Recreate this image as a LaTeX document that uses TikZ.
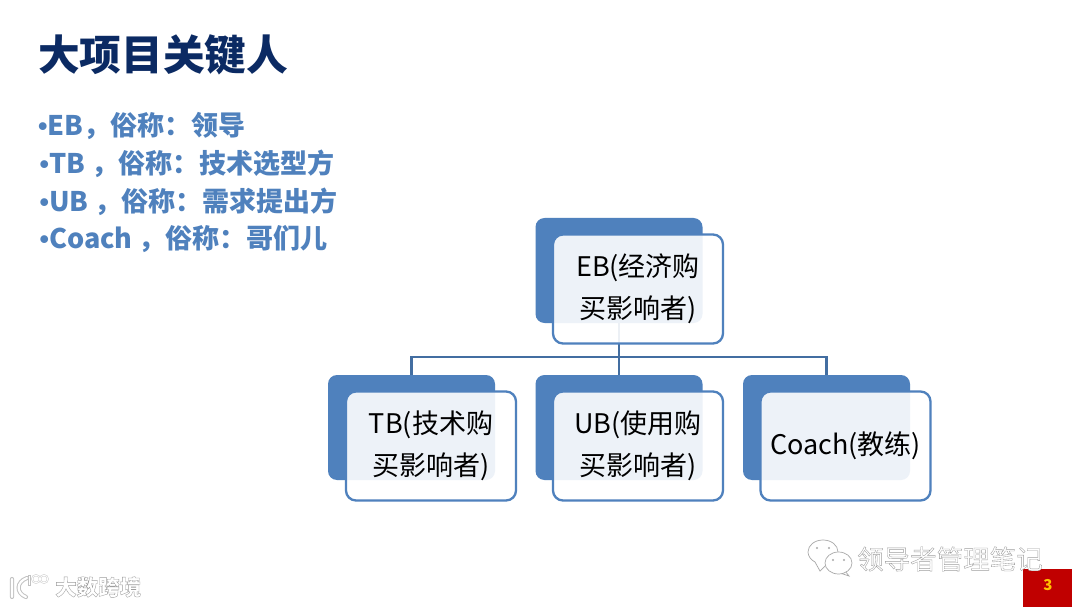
\documentclass[tikz,border=0pt]{standalone}
\usepackage{fontspec}
\setmainfont{Noto Sans CJK SC}
\newfontfamily\bulletfont{Liberation Sans}
\usetikzlibrary{calc}
\definecolor{accent}{HTML}{4F81BD}
\definecolor{titleblue}{HTML}{0B2A63}
\definecolor{listblue}{HTML}{4F81BD}
\definecolor{wmgray}{HTML}{A8A8A8}
\definecolor{pagered}{HTML}{C00000}
\definecolor{pageyellow}{HTML}{FFC000}
\tikzset{
  backbox/.style={draw=none,fill=accent,rounded corners=9pt,minimum width=167pt,minimum height=105pt,inner sep=0pt},
  frontbox/.style={draw=accent,line width=2.3pt,fill=white,fill opacity=.9,text opacity=1,rounded corners=10pt,minimum width=170pt,minimum height=109pt,inner sep=0pt,align=center,font=\fontsize{27}{42}\selectfont,text=black},
  wire/.style={draw=accent!85!black,line width=2.6pt},
  listitem/.style={anchor=west,inner sep=0pt,text=listblue,font=\fontsize{27}{27}\selectfont\bfseries},
  wmtext/.style={anchor=west,inner sep=0pt,text=white,font=\fontsize{26.5}{27}\selectfont},
  wmicon/.style={draw=wmgray,line width=.7pt,fill=white},
  wmdot/.style={fill=wmgray,circle,inner sep=0pt,minimum size=2.2pt},
  logo/.style={draw=white,line width=2.2pt,line cap=round},
  logoglow/.style={draw=wmgray!70,line width=4.2pt,line cap=round},
}
\newcommand{\stroked}[1]{\special{pdf:code q 2 Tr 0.35 w 0.62 0.62 0.62 RG 1 1 1 rg}#1\special{pdf:code Q}}
\newcommand{\blt}{{\bulletfont\bfseries •}}
\begin{document}
\begin{tikzpicture}[x=1pt,y=-1pt]
\useasboundingbox (0,0) rectangle (1080,607);
\fill[white] (0,0) rectangle (1080,607);

\node[anchor=west,inner sep=0pt,text=titleblue,font=\fontsize{41.7}{42}\selectfont\bfseries] (title) at (38,55) {大项目关键人};
\node[listitem] (l1) at (38,126) {\blt EB，俗称：领导};
\node[listitem] (l2) at (39.5,164) {\blt TB ，俗称：技术选型方};
\node[listitem] (l3) at (39.5,202) {\blt UB ，俗称：需求提出方};
\node[listitem] (l4) at (39.5,239.5) {\blt Coach ，俗称：哥们儿};

\node[backbox] (ebb) at (619,270.5) {};
\node[backbox] (tbb) at (411.5,427.5) {};
\node[backbox] (ubb) at (619,427.5) {};
\node[backbox] (cob) at (826.5,427.5) {};

\coordinate (bus) at (619,357);
\draw[wire] (ebb.south) -- (ubb.north);
\draw[wire] (bus) -| (tbb.north);
\draw[wire] (bus) -| (cob.north);

\node[frontbox] (eb) at (638,289) {EB(经济购\\买影响者)};
\node[frontbox] (tb) at (431,446) {TB(技术购\\买影响者)};
\node[frontbox] (ub) at (638,446) {UB(使用购\\买影响者)};
\node[frontbox] (co) at (845.5,446) {Coach(教练)};

% page number
\fill[pagered] (1023,569) rectangle (1072,607);
\node[inner sep=0pt,text=pageyellow,font=\fontsize{15}{15}\selectfont\bfseries] (pg) at (1048,585.5) {3};

% WeChat watermark
\draw[wmicon] (815,562) -- (820,571) -- (827,564) .. controls (840,564) and (838,552) .. (838,552)
  .. controls (838,545) and (831,540) .. (823,540) .. controls (815,540) and (808,545) .. (808,552) .. controls (808,556) and (811,560) .. cycle;
\node[wmdot] (d1) at (817,548) {};
\node[wmdot] (d2) at (829,548) {};
\draw[wmicon] (845,571) -- (849,576) -- (840,573);
\draw[wmicon] (838.5,563) ellipse [x radius=13.5,y radius=11];
\node[wmdot] (d3) at (833,560) {};
\node[wmdot] (d4) at (844,560) {};
\node[wmtext] (wm) at (857,559) {\stroked{领导者管理笔记}};

% logo watermark
\node[wmtext,font=\fontsize{21.5}{22}\selectfont\bfseries] (dk) at (55,587) {\stroked{大数跨境}};
\draw[logoglow] (12,579) -- (12,597) (27,578) .. controls (16,582) and (16,593) .. (26,597);
\draw[logo] (12,579) -- (12,597) (27,578) .. controls (16,582) and (16,593) .. (26,597);
\draw[wmgray!70,line width=.5pt,fill=white] (28,575) rectangle (30,585);
\draw[wmgray!70,line width=1.8pt] (36,579) circle [radius=3.8] (44,579) circle [radius=3.8];
\draw[white,line width=1pt] (36,579) circle [radius=3.8] (44,579) circle [radius=3.8];
\end{tikzpicture}
\end{document}
